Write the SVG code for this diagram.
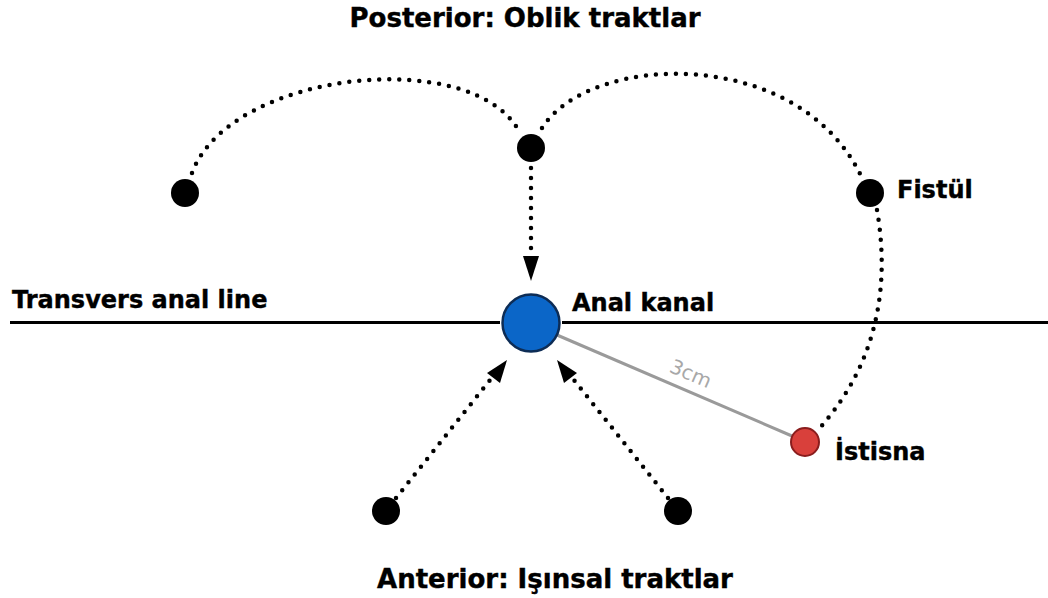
<svg xmlns="http://www.w3.org/2000/svg" width="1048" height="598" viewBox="0 0 1048 598">
<defs>
<style>
.lbl{font-family:"DejaVu Sans","Liberation Sans",sans-serif;font-weight:bold;fill:#000;stroke:#000;stroke-width:0.4;}
.dot{stroke:none;fill:#000;}
.trk{fill:none;stroke:#000;stroke-width:4.5;stroke-linecap:round;stroke-dasharray:0 10;}
.axis{stroke:#000;stroke-width:3;fill:none;}
.head{fill:#000;}
</style>
</defs>
<rect width="1048" height="598" fill="#fff"/>
<g id="connectors">
<path class="axis" d="M10,322.5 H500 M562,322.5 H1048"/>
<line x1="557" y1="335" x2="792" y2="436" stroke="#9a9a9a" stroke-width="3"/>
<text x="0" y="0" transform="translate(688,380) rotate(23.5)" text-anchor="middle" font-family="DejaVu Sans, sans-serif" font-size="20" fill="#a8a8a8">3cm</text>
<path class="trk" d="M192,173 C230,70 475,45 520,133"/>
<path class="trk" d="M542,128 C590,52 800,45 862,178"/>
<path class="trk" d="M877,210 C889,280 881,360 818,430"/>
<path class="trk" d="M531,168 V254"/>
<path class="head" d="M523,256 L539,256 L531,281 Z"/>
<path class="trk" d="M396,498 L490,380"/>
<path class="head" d="M487,373 L500,383 L507,360 Z"/>
<path class="trk" d="M668,498 L574,380"/>
<path class="head" d="M577,373 L564,383 L557,360 Z"/>
</g>
<g id="node-left"><circle class="dot" cx="185" cy="193" r="14"/></g>
<g id="node-top"><circle class="dot" cx="531" cy="148" r="14"/></g>
<g id="node-fistul"><circle class="dot" cx="870" cy="193" r="14"/><text class="lbl" x="897" y="198" font-size="24">Fistül</text></g>
<g id="node-anal"><circle cx="531" cy="323" r="28.5" fill="#0b66c8" stroke="#0d2c55" stroke-width="2.5"/><text class="lbl" x="572" y="311" font-size="24">Anal kanal</text></g>
<g id="node-istisna"><circle cx="805" cy="442" r="14" fill="#d9403b" stroke="#8a1d1d" stroke-width="2"/><text class="lbl" x="835" y="460" font-size="24">İstisna</text></g>
<g id="node-bl"><circle class="dot" cx="386" cy="511" r="14"/></g>
<g id="node-br"><circle class="dot" cx="678" cy="511" r="14"/></g>
<g id="titles">
<text class="lbl" x="12" y="308" font-size="24">Transvers anal line</text>
<text class="lbl" x="525" y="27" font-size="26" text-anchor="middle">Posterior: Oblik traktlar</text>
<text class="lbl" x="555" y="588" font-size="26" text-anchor="middle">Anterior: Işınsal traktlar</text>
</g>
</svg>
